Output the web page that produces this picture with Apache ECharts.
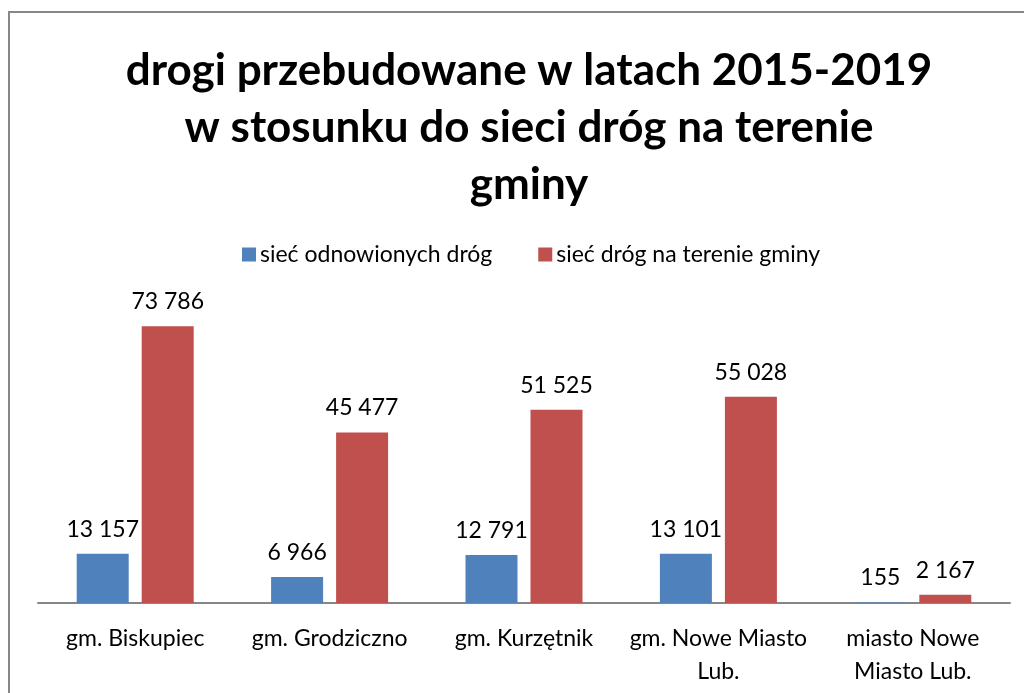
<!DOCTYPE html>
<html>
<head>
<meta charset="utf-8">
<script src="https://cdn.jsdelivr.net/npm/echarts@6/dist/echarts.min.js"></script>
<style>
  html, body { margin: 0; padding: 0; background: #ffffff; }
  #chart { width: 1024px; height: 693px; }
</style>
</head>
<body>
<div id="chart"></div>
<script>
// Road network data per municipality
const categories = [
  'gm. Biskupiec',
  'gm. Grodziczno',
  'gm. Kurzętnik',
  'gm. Nowe Miasto\nLub.',
  'miasto Nowe\nMiasto Lub.'
];
const renewedRoads = [13157, 6966, 12791, 13101, 155];
const totalRoads = [73786, 45477, 51525, 55028, 2167];
const seriesNames = ['sieć odnowionych dróg', 'sieć dróg na terenie gminy'];
const chartTitle = 'drogi przebudowane w latach 2015-2019\nw stosunku do sieci dróg na terenie\ngminy';

const FONT = 'Lato';

function fmt(v) {
  return String(v).replace(/\B(?=(\d{3})+(?!\d))/g, ' ');
}

const labelStyle = {
  show: true,
  position: 'top',
  distance: 13,
  fontFamily: FONT,
  fontSize: 23,
  color: '#000000',
  formatter: p => fmt(p.value)
};

const chart = echarts.init(document.getElementById('chart'), null, { renderer: 'canvas' });

chart.setOption({
  animation: false,
  backgroundColor: '#ffffff',
  title: {
    text: chartTitle,
    left: 524,
    top: 37,
    textAlign: 'center',
    textStyle: {
      fontFamily: FONT,
      fontSize: 44,
      fontWeight: 'bold',
      color: '#000000',
      lineHeight: 57
    }
  },
  legend: {
    data: seriesNames,
    left: 237,
    top: 238,
    itemWidth: 14,
    itemHeight: 14,
    itemGap: 46,
    icon: 'rect',
    textStyle: { fontFamily: FONT, fontSize: 23, color: '#000000', padding: [0, 0, 0, -1] }
  },
  grid: { left: 38, right: 14, top: 303, bottom: 90, containLabel: false },
  xAxis: {
    type: 'category',
    data: categories,
    axisLine: { lineStyle: { color: '#868686', width: 2 } },
    axisTick: { show: false },
    axisLabel: {
      fontFamily: FONT,
      fontSize: 23,
      color: '#000000',
      lineHeight: 33,
      margin: 19,
      interval: 0
    }
  },
  yAxis: {
    type: 'value',
    min: 0,
    max: 80000,
    show: false
  },
  series: [
    {
      name: seriesNames[0],
      type: 'bar',
      data: renewedRoads,
      barWidth: 52,
      barGap: '25%',
      itemStyle: { color: '#4F81BD' },
      label: labelStyle
    },
    {
      name: seriesNames[1],
      type: 'bar',
      data: totalRoads,
      barWidth: 52,
      barGap: '25%',
      itemStyle: { color: '#C0504D' },
      label: labelStyle
    }
  ],
  graphic: [
    {
      type: 'polyline',
      shape: { points: [[9, 693], [9, 12], [1024, 12]] },
      style: { stroke: '#878787', lineWidth: 2, fill: null },
      silent: true
    }
  ]
});
</script>
</body>
</html>
